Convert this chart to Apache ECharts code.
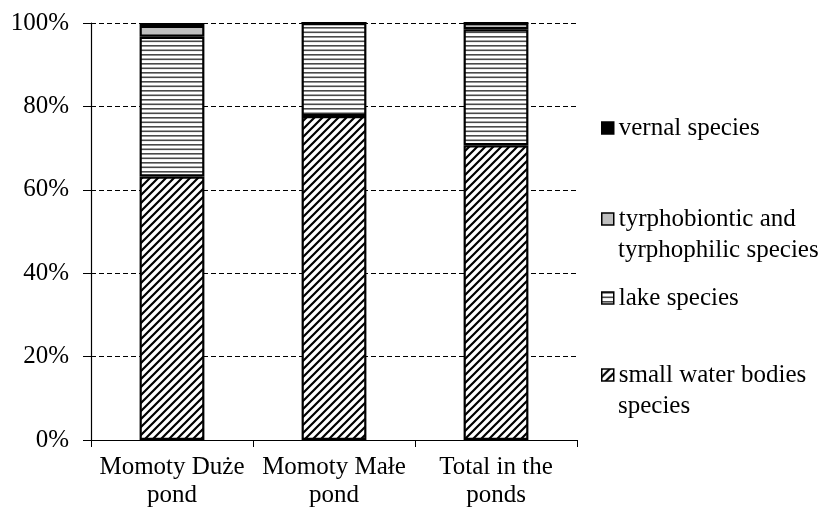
<!DOCTYPE html>
<html>
<head>
<meta charset="utf-8">
<script src="https://cdn.jsdelivr.net/npm/echarts@6/dist/echarts.min.js"></script>
<style>html,body{margin:0;padding:0;background:#fff}#c{width:822px;height:512px}</style>
</head>
<body>
<div id="c"></div>
<script>
const categories = ['Momoty Duże\npond', 'Momoty Małe\npond', 'Total in the\nponds'];
const seriesNames = ['small water bodies species', 'lake species', 'tyrphobiontic and tyrphophilic species', 'vernal species'];
const smallWater = [63.2, 77.7, 70.7];
const lake = [33.5, 22.3, 27.8];
const tyrpho = [2.6, 0, 1.5];
const vernal = [0.7, 0, 0];
const yTicks = [0, 20, 40, 60, 80, 100];

function diagPattern() {
  const c = document.createElement('canvas');
  c.width = 8; c.height = 8;
  const g = c.getContext('2d');
  g.fillStyle = '#fff'; g.fillRect(0, 0, 8, 8);
  g.strokeStyle = '#000'; g.lineWidth = 2.2;
  g.beginPath();
  g.moveTo(-4, 4); g.lineTo(4, -4);
  g.moveTo(0, 8); g.lineTo(8, 0);
  g.moveTo(4, 12); g.lineTo(12, 4);
  g.stroke();
  return c;
}
function horizPattern() {
  const c = document.createElement('canvas');
  c.width = 8; c.height = 9;
  const g = c.getContext('2d');
  g.fillStyle = '#fff'; g.fillRect(0, 0, 8, 9);
  g.fillStyle = '#4a4a4a';
  g.fillRect(0, 0, 8, 1.6);
  g.fillRect(0, 4.5, 8, 1.6);
  return c;
}
const font = '"Liberation Serif", "Times New Roman", serif';
const fills = [
  { image: diagPattern(), repeat: 'repeat' },
  { image: horizPattern(), repeat: 'repeat' },
  '#bfbfbf',
  '#000'
];
const values = [smallWater, lake, tyrpho, vernal];

const chart = echarts.init(document.getElementById('c'), null, { renderer: 'canvas' });

const LFS = 25, LH = 31;
const legendItems = [
  { name: seriesNames[3], lines: ['vernal species'], center: 128 },
  { name: seriesNames[2], lines: ['tyrphobiontic and', 'tyrphophilic species'], center: 219 },
  { name: seriesNames[1], lines: ['lake species'], center: 298 },
  { name: seriesNames[0], lines: ['small water bodies', 'species'], center: 375 }
];
const legends = legendItems.map(l => ({
  data: [l.name],
  orient: 'vertical',
  left: 601,
  top: l.center - LH / 2,
  padding: 0,
  itemWidth: 12,
  itemHeight: 12,
  icon: 'rect',
  selectedMode: false,
  itemStyle: { borderColor: '#000', borderWidth: 1.5 },
  formatter: () => l.lines[0],
  textStyle: { fontFamily: font, fontSize: LFS, color: '#000', lineHeight: LH }
}));
const secondLines = legendItems.filter(l => l.lines.length > 1).map(l => ({
  type: 'text',
  left: 618,
  top: l.center + LH / 2,
  style: { text: l.lines[1], fontFamily: font, fontSize: LFS, fill: '#000', lineHeight: LH }
}));

chart.setOption({
  animation: false,
  backgroundColor: '#fff',
  grid: { left: 91, right: 245, top: 23, bottom: 72, containLabel: false },
  legend: legends,
  graphic: secondLines,
  xAxis: {
    type: 'category',
    data: categories,
    axisLine: { lineStyle: { color: '#000', width: 1.2 } },
    axisTick: { show: true, interval: 0, length: 7, lineStyle: { color: '#000' } },
    axisLabel: { fontFamily: font, fontSize: 25, color: '#000', lineHeight: 28, margin: 13, interval: 0 }
  },
  yAxis: {
    type: 'value',
    min: yTicks[0], max: yTicks[yTicks.length - 1], interval: 20,
    axisLine: { show: true, lineStyle: { color: '#000', width: 1.2 } },
    axisTick: { show: true, length: 8, lineStyle: { color: '#000' } },
    axisLabel: { fontFamily: font, fontSize: 25, color: '#000', margin: 22, formatter: '{value}%' },
    splitLine: { lineStyle: { color: '#000', type: [5, 3], width: 1 } }
  },
  series: seriesNames.map((n, i) => ({
    name: n,
    type: 'bar',
    stack: 'total',
    barWidth: '40%',
    data: values[i],
    itemStyle: { color: fills[i], borderColor: '#000', borderWidth: 2.2 },
    emphasis: { disabled: true }
  }))
});
</script>
</body>
</html>
